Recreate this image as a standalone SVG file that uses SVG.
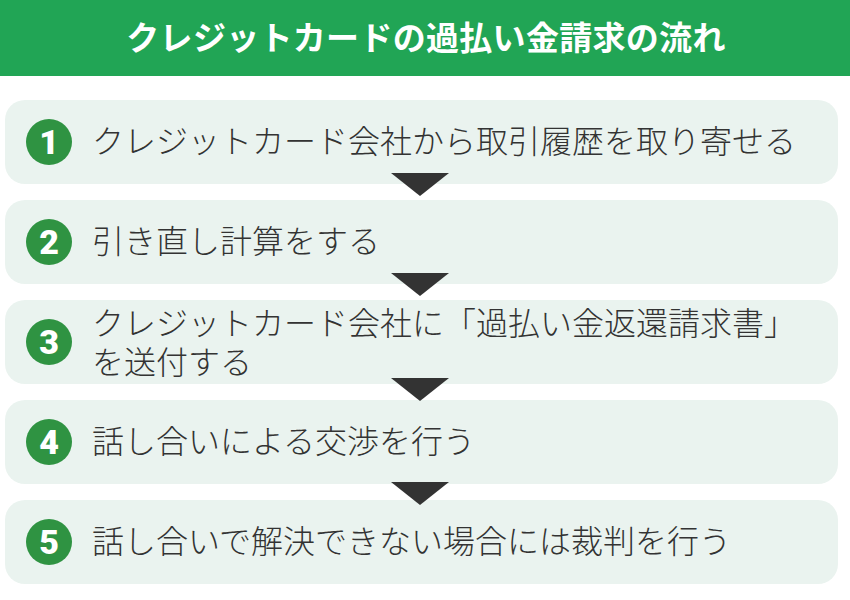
<svg xmlns="http://www.w3.org/2000/svg" width="850" height="600" viewBox="0 0 850 600">
<style>
.box{fill:#eaf3ef}
.num{fill:#2f9342}
.numt{fill:#fff;font-family:"Roboto","Noto Sans",sans-serif;font-weight:900;font-size:34px;text-anchor:middle}
.txt{fill:#333;font-family:"Noto Sans CJK JP","Noto Sans",sans-serif;font-weight:300;font-size:32px}
.arrow{fill:#333}
</style>
<rect x="0" y="0" width="850" height="76" fill="#21a555"/>
<text x="426" y="50" fill="#fff" font-family="'Noto Sans CJK JP',sans-serif" font-weight="700" font-size="33" letter-spacing="0.3" text-anchor="middle">クレジットカードの過払い金請求の流れ</text>
<g id="step1"><rect class="box" x="5" y="100" width="833" height="84" rx="20"/><circle class="num" cx="49" cy="142" r="23"/><text class="numt" x="49" y="154">1</text><text class="txt" x="92" y="153">クレジットカード会社から取引履歴を取り寄せる</text></g>
<g id="step2"><rect class="box" x="5" y="200" width="833" height="84" rx="20"/><circle class="num" cx="49" cy="242" r="23"/><text class="numt" x="49" y="254">2</text><text class="txt" x="92" y="253">引き直し計算をする</text></g>
<g id="step3"><rect class="box" x="5" y="300" width="833" height="84" rx="20"/><circle class="num" cx="49" cy="342" r="23"/><text class="numt" x="49" y="354">3</text><text class="txt" x="92" y="335">クレジットカード会社に「過払い金返還請求書」</text><text class="txt" x="92" y="374">を送付する</text></g>
<g id="step4"><rect class="box" x="5" y="400" width="833" height="84" rx="20"/><circle class="num" cx="49" cy="442" r="23"/><text class="numt" x="49" y="454">4</text><text class="txt" x="92" y="453">話し合いによる交渉を行う</text></g>
<g id="step5"><rect class="box" x="5" y="500" width="833" height="84" rx="20"/><circle class="num" cx="49" cy="542" r="23"/><text class="numt" x="49" y="554">5</text><text class="txt" x="92" y="553">話し合いで解決できない場合には裁判を行う</text></g>
<g id="connectors">
<polygon class="arrow" points="391,173 449,173 420,196"/>
<polygon class="arrow" points="391,273 449,273 420,296"/>
<polygon class="arrow" points="391,378 449,378 420,401"/>
<polygon class="arrow" points="391,482 449,482 420,505"/>
</g>
</svg>
